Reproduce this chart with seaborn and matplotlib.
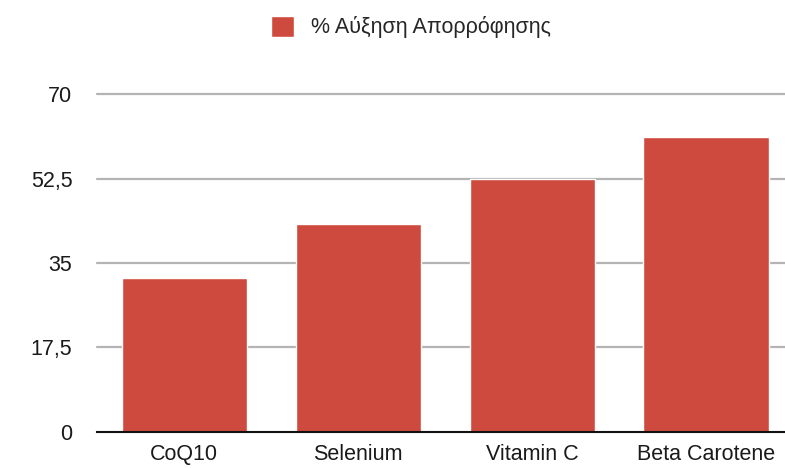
import matplotlib
matplotlib.use("Agg")
import matplotlib.pyplot as plt
import seaborn as sns
import pandas as pd

# data
categories = ["CoQ10", "Selenium", "Vitamin C", "Beta Carotene"]
values = [31.9, 43, 52.4, 61.1]
series_name = "% Αύξηση Απορρόφησης"
yticks = [0, 17.5, 35, 52.5, 70]
ytick_labels = ["0", "17,5", "35", "52,5", "70"]

df = pd.DataFrame({"cat": categories, "val": values, "series": series_name})

sns.set_style("white")
plt.rcParams["font.family"] = ["Liberation Sans", "DejaVu Sans"]

fig = plt.figure(figsize=(7.85, 4.68), dpi=100)
ax = fig.add_axes([0.124, 0.077, 0.876, 0.722])

ax.set_axisbelow(True)
for t in yticks[1:]:
    ax.axhline(t, color="#b4b4b4", lw=1.6, zorder=0, clip_on=False)

sns.barplot(data=df, x="cat", y="val", hue="series", palette=["#cf4a3e"],
            width=0.72, saturation=1, ax=ax, zorder=2)

ax.set_ylim(0, 70)
ax.set_xlim(-0.5, 3.454)
ax.set_yticks(yticks)
ax.set_yticklabels(ytick_labels)
ax.set_xlabel("")
ax.set_ylabel("")
ax.tick_params(axis="both", length=0, labelsize=15.5, colors="#1a1a1a")
ax.tick_params(axis="y", pad=18)
ax.tick_params(axis="x", pad=9)
for s in ["top", "right", "left"]:
    ax.spines[s].set_visible(False)
ax.spines["bottom"].set_color("#111111")
ax.spines["bottom"].set_linewidth(1.5)

ax.legend(loc="center", bbox_to_anchor=(0.456, 1.198), frameon=False,
          fontsize=15.5, handlelength=1.1, handleheight=1.1, handletextpad=0.8)

fig.savefig("out.png", dpi=100)
